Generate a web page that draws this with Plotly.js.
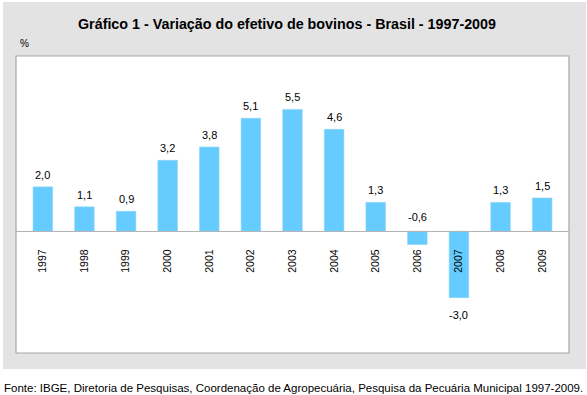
<!DOCTYPE html>
<html>
<head>
<meta charset="utf-8">
<script src="https://cdn.plot.ly/plotly-3.0.1.min.js"></script>
<style>html,body{margin:0;padding:0;background:#fff;}#chart{width:587px;height:395px;}</style>
</head>
<body>
<div id="chart"></div>
<script>
const years = ['1997','1998','1999','2000','2001','2002','2003','2004','2005','2006','2007','2008','2009'];
const variation = [2.0, 1.1, 0.9, 3.2, 3.8, 5.1, 5.5, 4.6, 1.3, -0.6, -3.0, 1.3, 1.5];
const titleText = 'Gráfico 1 - Variação do efetivo de bovinos - Brasil - 1997-2009';
const unitText = '%';
const sourceText = 'Fonte: IBGE, Diretoria de Pesquisas, Coordenação de Agropecuária, Pesquisa da Pecuária Municipal 1997-2009.';

const W = 587, H = 395;
const m = {l: 16, r: 18, t: 56, b: 42};
const pw = W - m.l - m.r, ph = H - m.t - m.b;
const px = x => (x - m.l) / pw;          // page x -> paper fraction
const py = y => (H - m.b - y) / ph;      // page y -> paper fraction

const yRange = [-5.5, 7.91];
const zeroPos = (0 - yRange[0]) / (yRange[1] - yRange[0]);
const FONT = 'Liberation Sans, Arial, Helvetica, sans-serif';
const fmt = v => v.toFixed(1).replace('.', ',');

const labelAnns = years.map((yr, i) => {
  const v = variation[i];
  if (v >= 0) return {x: i, y: v, text: fmt(v), yanchor: 'bottom', yshift: 4};
  if (v > -1) return {x: i, y: 0, text: fmt(v), yanchor: 'bottom', yshift: 6};
  return {x: i, y: v, text: fmt(v), yanchor: 'top', yshift: -9};
}).map(a => Object.assign(a, {xref: 'x', yref: 'y', showarrow: false, xanchor: 'center',
  font: {family: FONT, size: 11, color: '#000'}}));

const data = [{
  type: 'bar', x: years, y: variation, width: 0.47,
  marker: {color: '#66ccff', line: {color: '#8fd3f5', width: 0.6}},
  hoverinfo: 'x+y'
}];

const layout = {
  width: W, height: H, margin: m,
  paper_bgcolor: '#ffffff', plot_bgcolor: 'rgba(0,0,0,0)',
  showlegend: false,
  font: {family: FONT, size: 11, color: '#000'},
  xaxis: {
    type: 'category', range: [-0.645, 12.645], anchor: 'free', position: zeroPos,
    showline: true, linecolor: '#b4b4b4', linewidth: 1,
    ticks: 'outside', ticklen: 13, tickcolor: 'rgba(0,0,0,0)',
    tickangle: -90, tickfont: {family: FONT, size: 10.5, color: '#000'},
    showgrid: false, zeroline: false, fixedrange: true
  },
  yaxis: {
    range: yRange, showticklabels: false, showgrid: false, zeroline: false,
    ticks: '', showline: false, fixedrange: true
  },
  shapes: [
    {type: 'rect', xref: 'paper', yref: 'paper', x0: px(3), x1: px(586), y0: py(369), y1: py(2),
      fillcolor: '#e3e3e3', line: {width: 0}, layer: 'below'},
    {type: 'rect', xref: 'paper', yref: 'paper', x0: 0, x1: 1, y0: 0, y1: 1,
      fillcolor: '#ffffff', line: {color: '#a6a6a6', width: 1.2}, layer: 'below'}
  ],
  annotations: labelAnns.concat([
    {xref: 'paper', yref: 'paper', x: px(287), y: py(24), text: '<b>' + titleText + '</b>',
      showarrow: false, xanchor: 'center', yanchor: 'middle', font: {family: FONT, size: 14.3, color: '#000'}},
    {xref: 'paper', yref: 'paper', x: px(18), y: py(43), text: unitText,
      showarrow: false, xanchor: 'left', yanchor: 'middle', font: {family: FONT, size: 10, color: '#000'}},
    {xref: 'paper', yref: 'paper', x: px(2), y: py(388), text: sourceText,
      showarrow: false, xanchor: 'left', yanchor: 'middle', font: {family: FONT, size: 11.5, color: '#000'}}
  ])
};

Plotly.newPlot('chart', data, layout, {displayModeBar: false, staticPlot: true});
</script>
</body>
</html>
